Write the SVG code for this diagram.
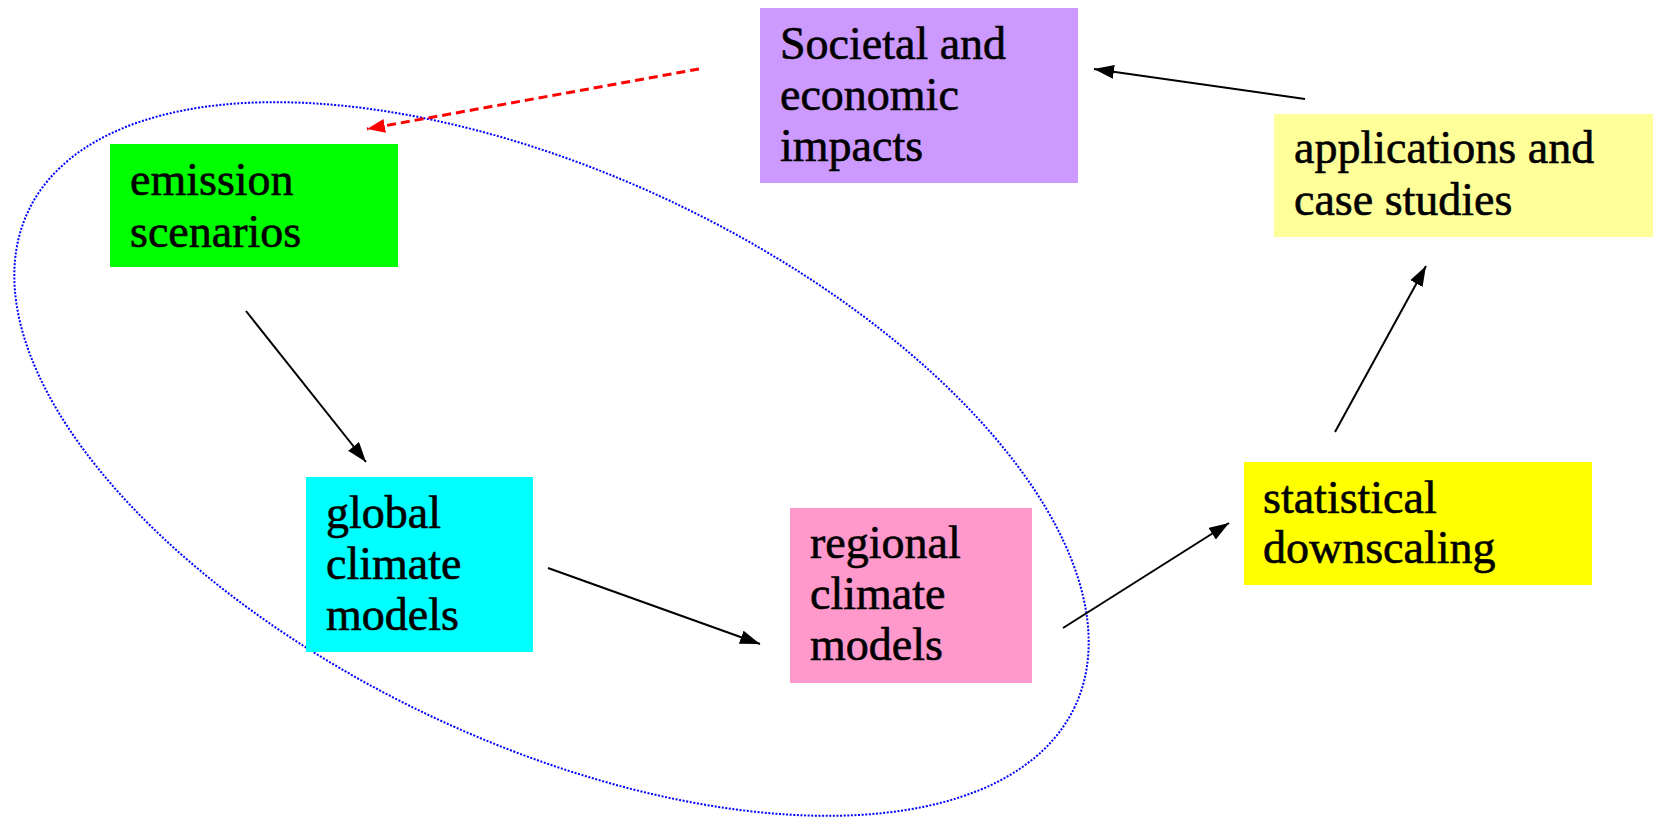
<svg xmlns="http://www.w3.org/2000/svg" width="1653" height="818" viewBox="0 0 1653 818">
<style>
  .lbl { font-family: 'Liberation Serif', 'DejaVu Serif', serif; font-size: 46px; fill: #000; stroke: #000; stroke-width: 0.6px; }
  .conn { stroke: #000; stroke-width: 2; fill: none; }
  .dash { stroke: #FF0000; stroke-width: 3; stroke-dasharray: 9 5; fill: none; }
  .loop { stroke: #0000FF; stroke-width: 2; stroke-dasharray: 2 1.6; fill: none; }
</style>
<defs>
  <marker id="ah" markerUnits="userSpaceOnUse" markerWidth="22" markerHeight="16" refX="20" refY="7" orient="auto">
    <path d="M0,0 L20,7 L0,14 z" fill="#000"/>
  </marker>
  <marker id="ahr" markerUnits="userSpaceOnUse" markerWidth="22" markerHeight="16" refX="18" refY="7" orient="auto">
    <path d="M0,0 L18,7 L0,14 z" fill="#FF0000"/>
  </marker>
</defs>
<rect width="1653" height="818" fill="#fff"/>
<ellipse class="loop" cx="551.5" cy="459" rx="579" ry="284" transform="rotate(25.35 551.5 459)"/>
<g font-family="Liberation Serif, DejaVu Serif, serif" font-size="46">
<g id="societal">
  <rect x="760" y="8" width="318" height="175" fill="#CC99FF"/>
  <text class="lbl" x="780" y="59">Societal and</text>
  <text class="lbl" x="780" y="110">economic</text>
  <text class="lbl" x="780" y="161">impacts</text>
</g>
<g id="applications">
  <rect x="1274" y="114" width="379" height="123" fill="#FFFF99"/>
  <text class="lbl" x="1294" y="163">applications and</text>
  <text class="lbl" x="1294" y="215">case studies</text>
</g>
<g id="emission">
  <rect x="110" y="144" width="288" height="123" fill="#00FF00"/>
  <text class="lbl" x="130" y="195">emission</text>
  <text class="lbl" x="130" y="247">scenarios</text>
</g>
<g id="global">
  <rect x="306" y="477" width="227" height="175" fill="#00FFFF"/>
  <text class="lbl" x="326" y="528">global</text>
  <text class="lbl" x="326" y="579">climate</text>
  <text class="lbl" x="326" y="630">models</text>
</g>
<g id="regional">
  <rect x="790" y="508" width="242" height="175" fill="#FF99CC"/>
  <text class="lbl" x="810" y="558">regional</text>
  <text class="lbl" x="810" y="609">climate</text>
  <text class="lbl" x="810" y="660">models</text>
</g>
<g id="statistical">
  <rect x="1244" y="462" width="348" height="123" fill="#FFFF00"/>
  <text class="lbl" x="1263" y="513">statistical</text>
  <text class="lbl" x="1263" y="563">downscaling</text>
</g>
</g>
<g id="connectors">
  <line class="dash" x1="699" y1="69" x2="367" y2="129" marker-end="url(#ahr)"/>
  <line class="conn" x1="246" y1="311" x2="366" y2="462" marker-end="url(#ah)"/>
  <line class="conn" x1="548" y1="568" x2="760" y2="644" marker-end="url(#ah)"/>
  <line class="conn" x1="1063" y1="628" x2="1229" y2="523" marker-end="url(#ah)"/>
  <line class="conn" x1="1335" y1="432" x2="1426" y2="266" marker-end="url(#ah)"/>
  <line class="conn" x1="1305" y1="99" x2="1094" y2="69" marker-end="url(#ah)"/>
</g>
</svg>
